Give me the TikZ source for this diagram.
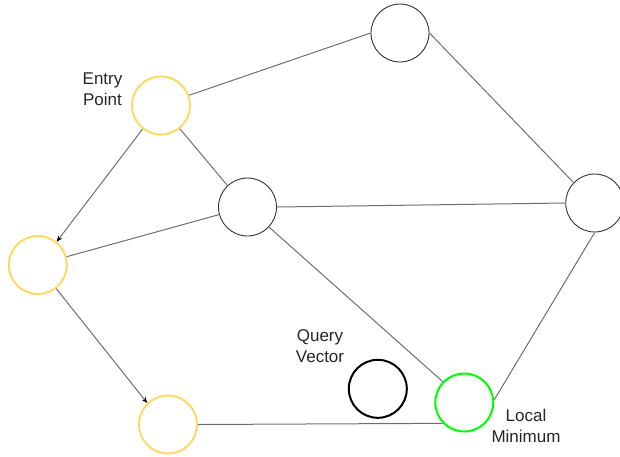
\documentclass[tikz,border=0pt]{standalone}
\usepackage{fontspec}
\setmainfont{Liberation Sans}
\usetikzlibrary{arrows.meta}
\definecolor{ygold}{HTML}{FFD966}
\definecolor{lgreen}{HTML}{00FF00}
\definecolor{edgegray}{HTML}{6E6E6E}
\begin{document}
\begin{tikzpicture}[x=1pt,y=-1pt,
  vtx/.style={circle,draw=black!80,line width=0.9pt,minimum size=58pt,inner sep=0pt},
  yvtx/.style={vtx,draw=ygold,line width=2pt},
  gvtx/.style={vtx,draw=lgreen,line width=2pt},
  qvtx/.style={vtx,draw=black,line width=2pt},
  edge/.style={draw=edgegray,line width=1pt},
  arr/.style={edge,-{Stealth[length=6pt,width=5pt,color=black]}},
  lbl/.style={font=\fontsize{17}{21}\selectfont,text=black!85,align=center,inner sep=0pt}]
\useasboundingbox (0,0) rectangle (620,456);
\node[vtx] (top) at (400,33) {};
\node[yvtx] (entry) at (161,105.5) {};
\node[vtx] (mid) at (247.5,207) {};
\node[vtx] (right) at (594.7,203) {};
\node[yvtx] (left) at (37.8,265) {};
\node[yvtx] (bl) at (168,424.5) {};
\node[qvtx] (query) at (377.8,388.8) {};
\node[gvtx] (lmin) at (464.3,402.5) {};
\node[lbl] (tentry) at (102.5,89) {Entry\\Point};
\node[lbl] (tquery) at (320,346.5) {Query\\Vector};
\node[lbl] (tlmin) at (526,425.5) {Local\\Minimum};
\draw[edge] (entry.20) -- (top.west);
\draw[edge] (entry.309) -- (mid.133);
\draw[arr] (entry.232) -- (left.51);
\draw[edge] (left.16) -- (mid.195);
\draw[arr] (left.308) -- (bl.134);
\draw[edge] (mid.east) -- (right.west);
\draw[edge] (mid.317) -- (lmin.136);
\draw[edge] (top.east) -- (right.136);
\draw[edge] (right.south) -- (lmin.5);
\draw[edge] (bl.east) -- (lmin.224);
\end{tikzpicture}
\end{document}
